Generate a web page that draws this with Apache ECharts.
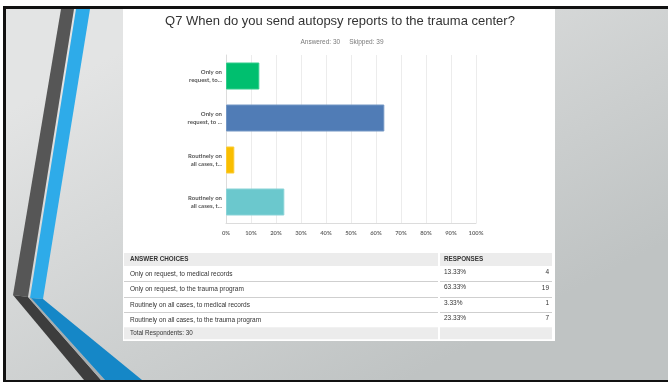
<!DOCTYPE html>
<html>
<head>
<meta charset="utf-8">
<script src="https://cdn.jsdelivr.net/npm/echarts@6/dist/echarts.min.js"></script>
<style>
html,body{margin:0;padding:0;background:#fff;}
#chart{width:668px;height:382px;}
</style>
</head>
<body>
<div id="chart"></div>
<script>
// ---- Data ----
const titleText = 'Q7 When do you send autopsy reports to the trauma center?';
const answered = 30;
const skipped = 39;
const categories = [
  'Only on request, to medical records',
  'Only on request, to the trauma program',
  'Routinely on all cases, to medical records',
  'Routinely on all cases, to the trauma program'
];
const shortLabels = [
  'Only on\nrequest, to...',
  'Only on\nrequest, to ...',
  'Routinely on\nall cases, t...',
  'Routinely on\nall cases, t...'
];
const percents = [13.33, 63.33, 3.33, 23.33];
const counts = [4, 19, 1, 7];
const totalRespondents = 30;
const xTicks = [0, 10, 20, 30, 40, 50, 60, 70, 80, 90, 100];

// ---- Styles ----
const barColors = ['#00bf6f', '#507cb6', '#f9be00', '#6bc8cd'];
const barBorders = ['#33cc8c', '#7396c4', '#fbcb33', '#89d3d7'];
const tableFont = '"Liberation Sans", Arial, sans-serif';

const chart = echarts.init(document.getElementById('chart'), null, {renderer: 'canvas'});

const graphics = [];
// slide background
graphics.push({type: 'rect', z: -20, shape: {x: 4, y: 7, width: 664, height: 375},
  style: {fill: new echarts.graphic.LinearGradient(0.3, 0, 0.6, 1, [
    {offset: 0, color: '#e3e4e4'}, {offset: 1, color: '#bfc3c3'}])}});
// border lines
graphics.push({type: 'rect', z: -10, shape: {x: 3, y: 6, width: 665, height: 3}, style: {fill: '#111'}});
graphics.push({type: 'rect', z: -10, shape: {x: 3, y: 6, width: 3, height: 376}, style: {fill: '#111'}});
graphics.push({type: 'rect', z: -10, shape: {x: 3, y: 380, width: 665, height: 2}, style: {fill: '#111'}});
// decorative stripes
graphics.push({type: 'polygon', z: -15, shape: {points: [[61,9],[74,9],[28,297],[13,295]]}, style: {fill: '#565656'}});
graphics.push({type: 'polygon', z: -15, shape: {points: [[76,9],[90,9],[43,299],[30,298]]}, style: {fill: '#2eabe9'}});
graphics.push({type: 'polygon', z: -15, shape: {points: [[13,295],[28,297],[101,380],[84,380]]}, style: {fill: '#3d3d3d'}});
graphics.push({type: 'polygon', z: -15, shape: {points: [[28,297],[31,298],[105,380],[101,380]]}, style: {fill: '#a9adae'}});
graphics.push({type: 'polygon', z: -15, shape: {points: [[31,298],[43,299],[142,380],[105,380]]}, style: {fill: '#1587c7'}});
// white panel
graphics.push({type: 'rect', z: -8, shape: {x: 123, y: 9, width: 432, height: 332}, style: {fill: '#ffffff'}});
// title and subtitle
graphics.push({type: 'text', z: 5, style: {text: titleText, x: 340, y: 21.5, textAlign: 'center', textVerticalAlign: 'middle',
  fontSize: 13, fontFamily: 'Liberation Sans, Arial, sans-serif', fill: '#333'}});
graphics.push({type: 'text', z: 5, style: {text: 'Answered: ' + answered + '     Skipped: ' + skipped, x: 342, y: 42,
  textAlign: 'center', textVerticalAlign: 'middle', fontSize: 6.5, fontFamily: tableFont, fill: '#7a7a7a'}});

// table
const tX0 = 124, tX1 = 552, tMid = 438;
const headerY = 253, headerH = 13;
const rowH = 15.3;
graphics.push({type: 'rect', z: 1, shape: {x: tX0, y: headerY, width: tMid - tX0, height: headerH}, style: {fill: '#ececec'}});
graphics.push({type: 'rect', z: 1, shape: {x: tMid + 2, y: headerY, width: tX1 - tMid - 2, height: headerH}, style: {fill: '#ececec'}});
graphics.push({type: 'text', z: 5, style: {text: 'ANSWER CHOICES', x: 130, y: headerY + headerH / 2, textVerticalAlign: 'middle',
  fontSize: 6.3, fontWeight: 'bold', fontFamily: tableFont, fill: '#333'}});
graphics.push({type: 'text', z: 5, style: {text: 'RESPONSES', x: 444, y: headerY + headerH / 2, textVerticalAlign: 'middle',
  fontSize: 6.3, fontWeight: 'bold', fontFamily: tableFont, fill: '#333'}});
categories.forEach((c, i) => {
  const top = headerY + headerH + i * rowH;
  const cy = top + rowH / 2;
  graphics.push({type: 'text', z: 5, style: {text: c, x: 130, y: cy + 0.5, textVerticalAlign: 'middle',
    fontSize: 6.5, fontFamily: tableFont, fill: '#333'}});
  graphics.push({type: 'text', z: 5, style: {text: percents[i].toFixed(2) + '%', x: 444, y: cy - 1.5, textVerticalAlign: 'middle',
    fontSize: 6.5, fontFamily: tableFont, fill: '#333'}});
  graphics.push({type: 'text', z: 5, style: {text: String(counts[i]), x: 549, y: cy - 1, textAlign: 'right', textVerticalAlign: 'middle',
    fontSize: 6.5, fontFamily: tableFont, fill: '#333'}});
  if (i < categories.length - 1) {
    const ly = Math.round(top + rowH) + 0.5;
    graphics.push({type: 'line', z: 2, shape: {x1: tX0, y1: ly, x2: tMid, y2: ly}, style: {stroke: '#cfcfcf', lineWidth: 1}});
    graphics.push({type: 'line', z: 2, shape: {x1: tMid + 2, y1: ly, x2: tX1, y2: ly}, style: {stroke: '#cfcfcf', lineWidth: 1}});
  }
});
const totY = headerY + headerH + categories.length * rowH;
graphics.push({type: 'rect', z: 1, shape: {x: tX0, y: totY, width: tMid - tX0, height: 12}, style: {fill: '#ececec'}});
graphics.push({type: 'rect', z: 1, shape: {x: tMid + 2, y: totY, width: tX1 - tMid - 2, height: 12}, style: {fill: '#ececec'}});
graphics.push({type: 'text', z: 5, style: {text: 'Total Respondents: ' + totalRespondents, x: 130, y: totY + 6, textVerticalAlign: 'middle',
  fontSize: 6.3, fontFamily: tableFont, fill: '#333'}});

const option = {
  animation: false,
  backgroundColor: '#ffffff',
  graphic: {elements: graphics},
  grid: {left: 226, top: 55, width: 250, height: 168, containLabel: false},
  xAxis: {
    type: 'value', min: xTicks[0], max: xTicks[xTicks.length - 1], interval: 10,
    axisLine: {show: true, lineStyle: {color: '#dcdcdc', width: 1}},
    axisTick: {show: false},
    splitLine: {show: true, lineStyle: {color: '#ececec', width: 1}},
    axisLabel: {formatter: v => v + '%', fontSize: 5.8, fontWeight: 'bold', color: '#6a6a6a',
      fontFamily: 'Lato, sans-serif', margin: 7}
  },
  yAxis: {
    type: 'category', inverse: true, data: categories,
    axisLine: {show: true, lineStyle: {color: '#dcdcdc', width: 1}},
    axisTick: {show: false},
    axisLabel: {formatter: (v, i) => shortLabels[i], fontSize: 6, fontWeight: 'bold', color: '#555',
      fontFamily: 'Lato, sans-serif', lineHeight: 7.5, align: 'right', margin: 4}
  },
  series: [{
    type: 'bar', barWidth: 27,
    data: percents.map((v, i) => ({value: v, itemStyle: {color: barColors[i], borderColor: barBorders[i], borderWidth: 1}}))
  }]
};
chart.setOption(option);
</script>
</body>
</html>
